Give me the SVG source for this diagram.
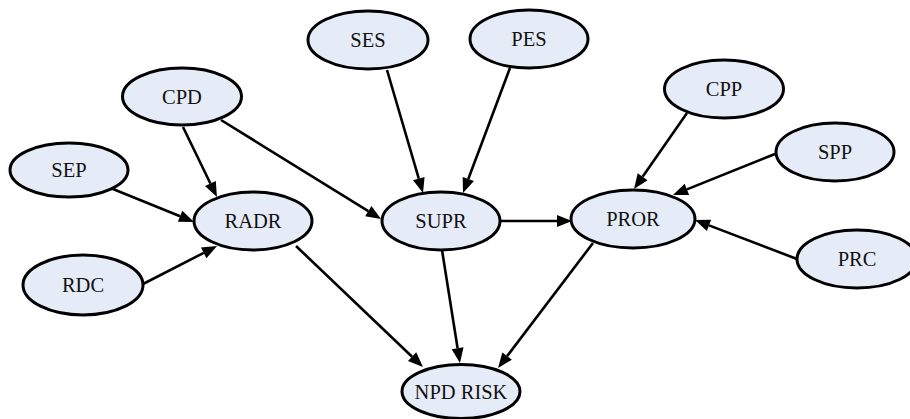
<svg xmlns="http://www.w3.org/2000/svg" width="910" height="419" viewBox="0 0 910 419">
<defs>
<style>
.node ellipse{fill:#e6ecf7;stroke:#000;stroke-width:3}
.node text{font-family:"Liberation Serif","Tinos","DejaVu Serif",serif;font-size:20.5px;fill:#111;text-anchor:middle}
.edges line{stroke:#000;stroke-width:2.6;marker-end:url(#arr)}
</style>
<marker id="arr" markerUnits="userSpaceOnUse" markerWidth="16" markerHeight="12" refX="0" refY="6" orient="auto" overflow="visible">
<path d="M0,0 L15,6 L0,12 z" fill="#000"/>
</marker>
</defs>
<rect width="910" height="419" fill="#fff"/>
<g id="connectors" class="edges">
<line x1="183" y1="127" x2="210.4" y2="183.5"/>
<line x1="221" y1="120" x2="368.3" y2="211.1"/>
<line x1="108" y1="187" x2="180.1" y2="216.3"/>
<line x1="143" y1="284" x2="203.7" y2="252.9"/>
<line x1="296" y1="246" x2="412.1" y2="356.7"/>
<line x1="442" y1="250" x2="457.6" y2="348.2"/>
<line x1="593" y1="243" x2="507.1" y2="356.1"/>
<line x1="387" y1="70" x2="418.8" y2="178.6"/>
<line x1="510" y1="68" x2="468.3" y2="179"/>
<line x1="501" y1="221" x2="557" y2="221"/>
<line x1="687" y1="113" x2="642.6" y2="176.7"/>
<line x1="775" y1="154" x2="686.9" y2="189.4"/>
<line x1="797" y1="259" x2="709" y2="225.4"/>
</g>
<g id="node-CPD" class="node"><ellipse cx="182" cy="96.5" rx="59.5" ry="28.5"/><text x="182" y="103.5">CPD</text></g>
<g id="node-SES" class="node"><ellipse cx="368" cy="40" rx="60" ry="29"/><text x="368" y="47">SES</text></g>
<g id="node-PES" class="node"><ellipse cx="529" cy="39" rx="59" ry="29"/><text x="529" y="46">PES</text></g>
<g id="node-CPP" class="node"><ellipse cx="724" cy="89" rx="59.5" ry="29"/><text x="724" y="96">CPP</text></g>
<g id="node-SPP" class="node"><ellipse cx="835" cy="152" rx="59" ry="29"/><text x="835" y="159">SPP</text></g>
<g id="node-SEP" class="node"><ellipse cx="69" cy="170" rx="59" ry="27"/><text x="69" y="177">SEP</text></g>
<g id="node-RADR" class="node"><ellipse cx="253" cy="221" rx="59" ry="29"/><text x="253" y="228">RADR</text></g>
<g id="node-SUPR" class="node"><ellipse cx="441" cy="221" rx="59" ry="29"/><text x="441" y="228">SUPR</text></g>
<g id="node-PROR" class="node"><ellipse cx="633" cy="219" rx="62" ry="29"/><text x="633" y="226">PROR</text></g>
<g id="node-PRC" class="node"><ellipse cx="857" cy="259" rx="60" ry="29"/><text x="857" y="266">PRC</text></g>
<g id="node-RDC" class="node"><ellipse cx="83" cy="285" rx="60" ry="30"/><text x="83" y="292">RDC</text></g>
<g id="node-NPD-RISK" class="node"><ellipse cx="461" cy="391.5" rx="59" ry="27"/><text x="461" y="398.5">NPD RISK</text></g>
</svg>
